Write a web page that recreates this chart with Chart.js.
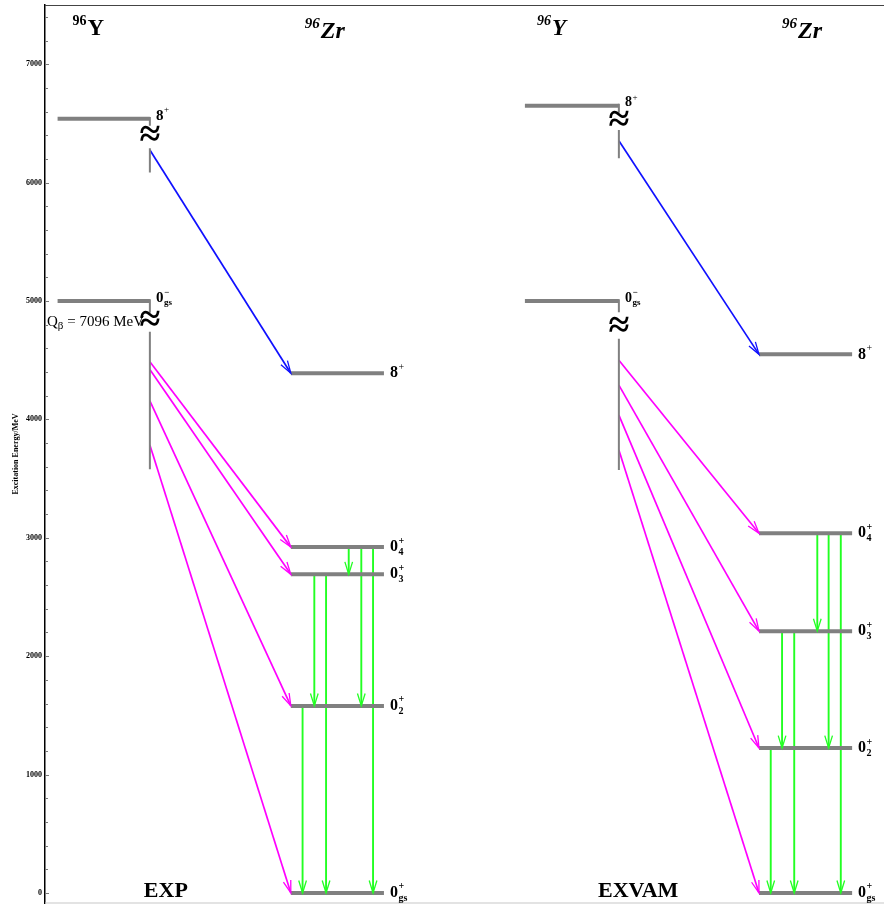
<!DOCTYPE html>
<html>
<head>
<meta charset="utf-8">
<script src="https://cdn.jsdelivr.net/npm/chart.js@4/dist/chart.umd.min.js"></script>
<style>
  body { margin: 0; background: #fff; }
  canvas { display: block; }
</style>
</head>
<body>
<canvas id="chart" width="884" height="905"></canvas>
<script>
// energies (keV, the axis says MeV)
const zrStates = ['8', '0', '0', '0', '0'];
const zrSup = ['+', '+', '+', '+', '+'];
const zrSub = ['', '4', '3', '2', 'gs'];
const expZr = [4390, 2921, 2691, 1580, 0];
const exvamZr = [4549, 3038, 2211, 1224, 0];

const yStates = ['8', '0'];
const ySup = ['+', '\u2212'];
const ySub = ['', 'gs'];
const expY = [6540, 5000];
const exvamY = [6650, 5000];

// beta feeding: start energy on the parent line -> daughter level index
const expBetaStart = [6275, 4486, 4422, 4157, 3783];
const exvamBetaStart = [6354, 4500, 4289, 4036, 3741];
const betaTo = [0, 1, 2, 3, 4];
const betaFrom = [0, 1, 1, 1, 1];

// gamma transitions between 96Zr levels
const gammaFrom = [1, 1, 1, 2, 2, 3];
const gammaTo = [2, 3, 4, 3, 4, 4];

// parent line segments (broken with the ≈ sign)
const expBreak = [[6540, 6480, 6290, 6085, 6390], [5000, 4900, 4740, 3578, 4830]];
const exvamBreak = [[6650, 6590, 6445, 6205, 6515], [5000, 4905, 4680, 3572, 4775]];

const qBeta = ['Q', '\u03b2', ' = 7096 MeV'];
const panels = ['EXP', 'EXVAM'];

// layout of the two panels on a 0..100 x scale
const cols = [
  { yL: 1.5, yR: 12.5, zL: 29.3, zR: 40.4, gx: [36.2, 37.7, 39.1, 32.1, 33.5, 30.7] },
  { yL: 57.2, yR: 68.4, zL: 85.1, zR: 96.2, gx: [92.05, 93.4, 94.85, 87.85, 89.3, 86.5] }
];
const panelData = [
  { zr: expZr, y: expY, bs: expBetaStart, br: expBreak },
  { zr: exvamZr, y: exvamY, bs: exvamBetaStart, br: exvamBreak }
];

const GRAY = '#808080';
const GREEN = '#22ff22';
const MAGENTA = '#ff00ff';
const BLUE = '#1010ff';
const SERIF = "'Liberation Serif', 'DejaVu Serif', serif";

let datasets = [];
let arrows = [];
function seg(x1, y1, x2, y2, color, width, arrow) {
  datasets.push({
    data: [{x: x1, y: y1}, {x: x2, y: y2}],
    borderColor: color, borderWidth: width,
    pointRadius: 0, showLine: true, fill: false
  });
  if (arrow) arrows.push(datasets.length - 1);
}

panelData.forEach((p, k) => {
  const c = cols[k];
  // 96Zr levels
  p.zr.forEach(e => seg(c.zL, e, c.zR, e, GRAY, 4));
  // 96Y levels and their broken vertical lines
  p.y.forEach((e, i) => {
    seg(c.yL, e, c.yR, e, GRAY, 4);
    const b = p.br[i];
    seg(c.yR, b[0] + 15, c.yR, b[1], GRAY, 2);
    seg(c.yR, b[2], c.yR, b[3], GRAY, 2);
  });
  // gammas
  gammaFrom.forEach((f, i) => {
    seg(c.gx[i], p.zr[f], c.gx[i], p.zr[gammaTo[i]], GREEN, 1.9, true);
  });
  // betas
  betaTo.forEach((t, i) => {
    seg(c.yR, p.bs[i], c.zL, p.zr[t], betaFrom[i] === 0 ? BLUE : MAGENTA, 1.7, true);
  });
});

function spin(ctx, x, y, main, sup, sub, size) {
  ctx.fillStyle = '#000';
  ctx.textBaseline = 'middle';
  ctx.textAlign = 'left';
  ctx.font = 'bold ' + size + 'px ' + SERIF;
  ctx.fillText(main, x, y);
  const w = ctx.measureText(main).width;
  const s = Math.round(size * 0.62);
  ctx.font = (sub ? 'bold ' : '') + s + 'px ' + SERIF;
  if (sup) ctx.fillText(sup, x + w + 0.5, y - size * 0.38);
  ctx.font = 'bold ' + s + 'px ' + SERIF;
  if (sub) ctx.fillText(sub, x + w + 0.5, y + size * 0.33);
}

function nucleus(ctx, x, y, mass, sym, italic, size) {
  ctx.fillStyle = '#000';
  ctx.textBaseline = 'alphabetic';
  ctx.textAlign = 'left';
  const st = italic ? 'italic bold ' : 'bold ';
  ctx.font = st + Math.round(size * 0.62) + 'px ' + SERIF;
  ctx.fillText(mass, x, y - size * 0.42);
  const w = ctx.measureText(mass).width;
  ctx.font = st + size + 'px ' + SERIF;
  ctx.fillText(sym, x + w + 1, y);
}

const decor = {
  id: 'decor',
  afterDatasetsDraw(chart) {
    const ctx = chart.ctx;
    const xs = chart.scales.x, ys = chart.scales.y;
    const area = chart.chartArea;
    ctx.save();
    // arrow heads
    arrows.forEach(i => {
      const d = chart.data.datasets[i];
      const x1 = xs.getPixelForValue(d.data[0].x), y1 = ys.getPixelForValue(d.data[0].y);
      const x2 = xs.getPixelForValue(d.data[1].x), y2 = ys.getPixelForValue(d.data[1].y);
      const a = Math.atan2(y2 - y1, x2 - x1);
      const len = 13, half = 0.3;
      ctx.strokeStyle = d.borderColor;
      ctx.lineWidth = 1.3;
      ctx.beginPath();
      ctx.moveTo(x2 - len * Math.cos(a - half), y2 - len * Math.sin(a - half));
      ctx.lineTo(x2, y2);
      ctx.lineTo(x2 - len * Math.cos(a + half), y2 - len * Math.sin(a + half));
      ctx.stroke();
    });
    // frame lines
    ctx.strokeStyle = '#444';
    ctx.lineWidth = 1.2;
    ctx.beginPath();
    ctx.moveTo(area.left, area.top + 0.5);
    ctx.lineTo(area.right, area.top + 0.5);
    ctx.stroke();
    ctx.strokeStyle = '#c8c8c8';
    ctx.beginPath();
    ctx.moveTo(area.left, area.bottom);
    ctx.lineTo(area.right, area.bottom);
    ctx.stroke();
    // inner tick marks
    ctx.strokeStyle = '#777';
    ctx.lineWidth = 1;
    ys.ticks.forEach(t => {
      const py = Math.round(ys.getPixelForValue(t.value)) + 0.5;
      ctx.beginPath();
      ctx.moveTo(area.left, py);
      ctx.lineTo(area.left + (t.value % 1000 === 0 ? 4 : 3), py);
      ctx.stroke();
    });

    panelData.forEach((p, k) => {
      const c = cols[k];
      const px = v => xs.getPixelForValue(v);
      const py = v => ys.getPixelForValue(v);
      p.zr.forEach((e, i) => spin(ctx, px(c.zR) + 6, py(e), zrStates[i], zrSup[i], zrSub[i], 16));
      p.y.forEach((e, i) => {
        const size = k === 0 ? 15 : 14;
        spin(ctx, px(c.yR) + 6, py(e) - 3, yStates[i], ySup[i], ySub[i], size);
        ctx.font = 'bold 38px ' + SERIF;
        ctx.textAlign = 'center';
        ctx.textBaseline = 'middle';
        ctx.fillText('\u2248', px(c.yR), py(p.br[i][4]));
      });
      nucleus(ctx, px(c.yL) + (k === 0 ? 15 : 12), area.top + 30, '96', 'Y', k === 1, 23);
      nucleus(ctx, px(c.zL) + (k === 0 ? 14 : 23), area.top + 33, '96', 'Zr', true, 24);
      ctx.font = 'bold 22px ' + SERIF;
      ctx.textAlign = 'center';
      ctx.textBaseline = 'alphabetic';
      ctx.fillText(panels[k], px(k === 0 ? 14.4 : 70.7), py(0) + 4);
    });

    // Q-beta text
    let qx = area.left + 2;
    const qy = ys.getPixelForValue(4830) + 5;
    ctx.textAlign = 'left';
    ctx.textBaseline = 'alphabetic';
    ctx.font = '15px ' + SERIF;
    ctx.fillText(qBeta[0], qx, qy);
    qx += ctx.measureText(qBeta[0]).width;
    ctx.font = '11px ' + SERIF;
    ctx.fillText(qBeta[1], qx, qy + 3);
    qx += ctx.measureText(qBeta[1]).width;
    ctx.font = '15px ' + SERIF;
    ctx.fillText(qBeta[2], qx, qy);
    ctx.restore();
  }
};

new Chart(document.getElementById('chart'), {
  type: 'scatter',
  data: { datasets: datasets },
  options: {
    responsive: false,
    animation: false,
    devicePixelRatio: 1,
    layout: { padding: { top: 5, bottom: 2, right: 0, left: 0 } },
    plugins: { legend: { display: false }, tooltip: { enabled: false } },
    scales: {
      x: { type: 'linear', min: 0, max: 100, display: false },
      y: {
        type: 'linear', min: -85, max: 7500,
        afterBuildTicks: s => {
          const t = [];
          for (let v = 0; v <= 7400; v += 200) t.push({ value: v });
          s.ticks = t;
        },
        afterFit: s => { s.width = 45; s.paddingTop = 0; s.paddingBottom = 0; },
        ticks: {
          autoSkip: false,
          padding: 3,
          color: '#000',
          font: { family: SERIF, size: 8, weight: 'bold' },
          callback: v => (v % 1000 === 0 ? String(v) : '')
        },
        grid: { drawOnChartArea: false, drawTicks: false },
        border: { color: '#000', width: 1.5 },
        title: {
          display: true, text: 'Excitation Energy/MeV', color: '#000',
          font: { family: SERIF, size: 8, weight: 'bold' }, padding: { top: 11, bottom: 0 }
        }
      }
    }
  },
  plugins: [decor]
});
</script>
</body>
</html>
